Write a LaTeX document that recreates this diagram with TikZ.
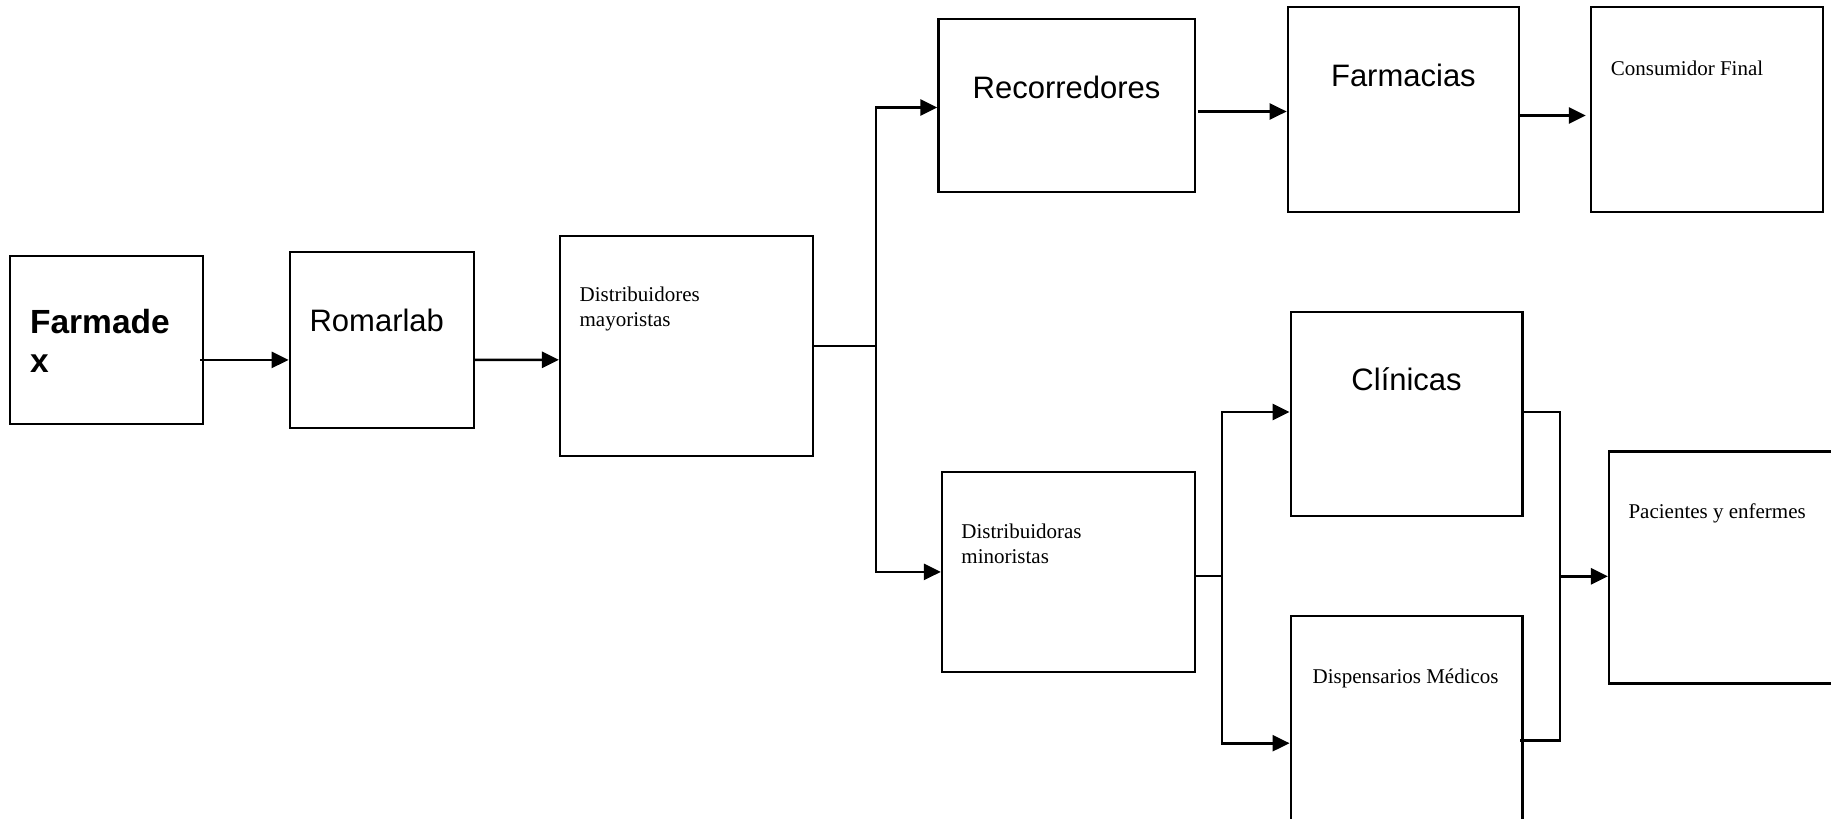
\documentclass[tikz,border=0pt]{standalone}
\usepackage{fontspec}
\setmainfont{Liberation Serif}
\setsansfont{Liberation Sans}
\usetikzlibrary{arrows.meta,positioning}
\tikzset{
  box/.style={draw, line width=2.2pt, rectangle, inner sep=0pt},
  line/.style={line width=2.6pt},
  arr/.style={line width=2.6pt, -{Triangle[length=17pt,width=16pt]}},
  big/.style={font=\sffamily\fontsize{31}{37}\selectfont, inner sep=0pt},
  small/.style={font=\fontsize{21}{25}\selectfont, inner sep=0pt, align=left},
}
\begin{document}
\begin{tikzpicture}[x=1pt, y=-1pt]
  \clip (0,0) rectangle (1831,819);
  % boxes
  \node[box, minimum width=193.4pt, minimum height=168.3pt] (farm) at (106.3,339.9) {};
  \node[box, minimum width=184.1pt, minimum height=176.3pt] (rom) at (381.8,339.9) {};
  \node[box, minimum width=252.7pt, minimum height=219.6pt] (may) at (686.4,345.8) {};
  \node[box, minimum width=256.4pt, minimum height=172.4pt] (rec) at (1066.6,105.5) {};
  \node[box, minimum width=231.3pt, minimum height=204.3pt] (far) at (1403.4,109.5) {};
  \node[box, minimum width=231.9pt, minimum height=204.3pt] (con) at (1706.8,109.5) {};
  \node[box, minimum width=252.9pt, minimum height=200.1pt] (min) at (1068.4,571.9) {};
  \node[box, minimum width=231.9pt, minimum height=204.3pt] (cli) at (1406.6,414) {};
  \node[box, minimum width=231.9pt, minimum height=204.3pt] (dis) at (1406.6,718.2) {};
  \node[box, minimum width=232pt, minimum height=232pt] (pac) at (1725,567.4) {};
  % texts (base of a two-line node is its last line)
  \node[big, font=\sffamily\bfseries\fontsize{33.5}{39}\selectfont, align=left, anchor=base west] (farm-t) at ([shift={(21.4,117.7)}]farm.north west) {Farmade\\x};
  \node[big, anchor=base] (rom-t) at ([shift={(-5,80.6)}]rom.north) {Romarlab};
  \node[small, anchor=base west] (may-t) at ([shift={(20.5,92)}]may.north west) {Distribuidores\\mayoristas};
  \node[big, anchor=base] (rec-t) at ([shift={(0,80)}]rec.north) {Recorredores};
  \node[big, anchor=base] (far-t) at ([shift={(0,80.5)}]far.north) {Farmacias};
  \node[small, anchor=base west] (con-t) at ([shift={(21,69)}]con.north west) {Consumidor Final};
  \node[big, anchor=base] (cli-t) at ([shift={(0,80)}]cli.north) {Clínicas};
  \node[small, anchor=base west] (min-t) at ([shift={(20.4,92.4)}]min.north west) {Distribuidoras\\minoristas};
  \node[small, anchor=base] (dis-t) at ([shift={(-1,68.4)}]dis.north) {Dispensarios Médicos};
  \node[small, anchor=base west] (pac-t) at ([shift={(20.4,68.5)}]pac.north west) {Pacientes y enfermes};
  % connectors
  \draw[arr] ([shift={(-4,20)}]farm.east) -- ([shift={(0,20)}]rom.west);
  \draw[arr] ([shift={(0,20)}]rom.east) -- ([shift={(0,14)}]may.west);
  \coordinate[right=62pt of may.east] (jA);
  \draw[line] (may.east) -- (jA);
  \draw[arr] (jA) |- ([yshift=-2pt]rec.west);
  \draw[arr] (jA) |- (min.west);
  \draw[arr] ([shift={(2,6)}]rec.east) -- ([shift={(0,2)}]far.west);
  \draw[arr] ([shift={(0,6)}]far.east) -- ([shift={(-4,6)}]con.west);
  \coordinate (jB) at ([shift={(26,4)}]min.east);
  \draw[line] ([yshift=-4pt]min.east) -- (jB);
  \draw[arr] (jB) |- ([yshift=2pt]cli.west);
  \draw[arr] (jB) |- ([yshift=-25pt]dis.west);
  \coordinate (jC) at ([shift={(36.2,162.3)}]cli.east);
  \draw[line] ([yshift=2pt]cli.east) -| (jC) |- ([shift={(-4,22)}]dis.east);
  \draw[arr] (jC) -- (jC -| pac.west);
\end{tikzpicture}
\end{document}
